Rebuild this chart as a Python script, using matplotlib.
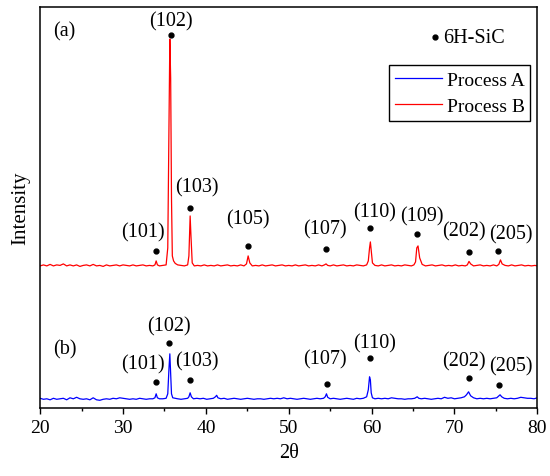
import numpy as np
import matplotlib
matplotlib.use("Agg")
import matplotlib.pyplot as plt
from matplotlib.ticker import MultipleLocator

plt.rcParams['font.family'] = ['Liberation Serif', 'DejaVu Serif']
plt.rcParams['mathtext.fontset'] = 'stix'

# Process A pattern (2theta, intensity), bottom trace
a_x = [20.0, 20.4, 20.8, 21.2, 21.6, 22.0, 22.4, 22.8, 23.2, 23.6, 24.0, 24.4,
       24.8, 25.2, 25.6, 26.0, 26.4, 26.8, 27.2, 27.6, 28.0, 28.4, 28.8, 29.2,
       29.6, 30.0, 30.4, 30.8, 31.2, 31.6, 32.0, 32.4, 32.8, 33.2, 33.6, 33.85,
       34.0, 34.15, 34.4, 34.8, 35.2, 35.4, 35.55, 35.65, 35.75, 35.85, 36.0,
       36.3, 36.6, 37.0, 37.4, 37.8, 37.95, 38.1, 38.25, 38.5, 38.9, 39.3, 39.7,
       40.1, 40.5, 40.9, 41.15, 41.3, 41.45, 41.8, 42.2, 42.6, 43.0, 43.4, 43.8,
       44.2, 44.6, 45.0, 45.4, 45.8, 46.2, 46.6, 47.0, 47.4, 47.8, 48.2, 48.6,
       49.0, 49.4, 49.8, 50.2, 50.6, 51.0, 51.4, 51.8, 52.2, 52.6, 53.0, 53.4,
       53.8, 54.2, 54.4, 54.55, 54.7, 55.0, 55.4, 55.8, 56.2, 56.6, 57.0, 57.4,
       57.8, 58.2, 58.6, 59.0, 59.4, 59.6, 59.75, 59.85, 59.95, 60.1, 60.4,
       60.8, 61.2, 61.6, 62.0, 62.4, 62.8, 63.2, 63.6, 64.0, 64.4, 64.8, 65.2,
       65.5, 65.7, 66.0, 66.4, 66.8, 67.2, 67.6, 68.0, 68.4, 68.8, 69.2, 69.6,
       70.0, 70.4, 70.8, 71.2, 71.45, 71.7, 71.95, 72.3, 72.7, 73.1, 73.5, 73.9,
       74.3, 74.7, 75.1, 75.3, 75.5, 75.7, 76.0, 76.4, 76.8, 77.2, 77.6, 78.0,
       78.4, 78.8, 79.2, 79.6, 80.0]
a_y = [9.5, 8.5, 9.0, 8.0, 9.5, 8.5, 9.0, 9.5, 8.0, 10.0, 9.0, 10.5,
       9.0, 8.5, 9.0, 8.0, 10.0, 8.0, 7.5, 8.5, 9.0, 8.5, 9.5, 9.0,
       10.0, 9.5, 9.0, 8.5, 9.0, 8.5, 9.5, 9.0, 8.5, 9.0, 9.0, 10.0,
       14.0, 10.0, 9.0, 9.0, 9.5, 14.0, 40.0, 54.0, 35.0, 14.0, 10.0,
       9.5, 9.0, 8.5, 9.0, 9.5, 11.0, 15.0, 11.0, 9.0, 9.5, 9.0, 9.5,
       8.5, 9.0, 9.5, 11.0, 12.5, 10.0, 9.0, 9.5, 8.5, 9.0, 9.5, 9.0,
       8.5, 9.0, 9.5, 9.0, 8.5, 9.0, 9.0, 8.5, 9.0, 9.5, 9.0, 9.5,
       9.0, 10.0, 9.0, 9.5, 9.0, 8.5, 9.0, 9.5, 9.0, 8.5, 9.0, 9.5,
       9.0, 9.5, 11.0, 14.0, 10.5, 9.0, 9.5, 9.0, 8.5, 9.0, 9.5, 9.0,
       8.5, 9.5, 9.0, 9.5, 11.0, 18.0, 31.0, 28.0, 15.0, 10.0, 9.0,
       9.5, 9.0, 9.5, 9.0, 10.0, 9.5, 9.0, 9.0, 8.5, 9.0, 9.0, 9.5,
       11.0, 9.5, 9.0, 9.5, 9.0, 8.5, 9.0, 9.5, 9.0, 10.5, 9.5, 10.0,
       9.0, 9.5, 10.0, 11.0, 13.0, 16.0, 12.0, 10.0, 9.0, 9.5, 9.0, 9.5,
       9.0, 9.5, 10.0, 11.5, 13.0, 11.0, 9.5, 9.0, 9.5, 9.0, 9.5, 10.5,
       10.0, 9.5, 9.5, 9.0, 10.0]

# Process B pattern (2theta, intensity), upper trace
b_x = [20.0, 20.4, 20.8, 21.2, 21.6, 22.0, 22.4, 22.8, 23.2, 23.6, 24.0, 24.4,
       24.8, 25.2, 25.6, 26.0, 26.4, 26.8, 27.2, 27.6, 28.0, 28.4, 28.8, 29.2,
       29.6, 30.0, 30.4, 30.8, 31.2, 31.6, 32.0, 32.4, 32.8, 33.2, 33.6, 33.85,
       34.0, 34.15, 34.4, 34.8, 35.2, 35.4, 35.55, 35.65, 35.75, 35.85, 35.95,
       36.1, 36.3, 36.6, 37.0, 37.4, 37.8, 37.95, 38.1, 38.2, 38.35, 38.6, 39.0,
       39.4, 39.8, 40.2, 40.6, 41.0, 41.4, 41.8, 42.2, 42.6, 43.0, 43.4, 43.8,
       44.2, 44.6, 44.9, 45.1, 45.3, 45.6, 46.0, 46.4, 46.8, 47.2, 47.6, 48.0,
       48.4, 48.8, 49.2, 49.6, 50.0, 50.4, 50.8, 51.2, 51.6, 52.0, 52.4, 52.8,
       53.2, 53.6, 54.0, 54.3, 54.5, 54.7, 55.0, 55.4, 55.8, 56.2, 56.6, 57.0,
       57.4, 57.8, 58.2, 58.6, 59.0, 59.4, 59.6, 59.75, 59.85, 59.95, 60.1,
       60.4, 60.8, 61.2, 61.6, 62.0, 62.4, 62.8, 63.2, 63.6, 64.0, 64.4, 64.8,
       65.1, 65.3, 65.45, 65.6, 65.8, 66.1, 66.5, 66.9, 67.3, 67.7, 68.1, 68.5,
       68.9, 69.3, 69.7, 70.1, 70.5, 70.9, 71.3, 71.55, 71.75, 71.95, 72.3,
       72.7, 73.1, 73.5, 73.9, 74.3, 74.7, 75.1, 75.35, 75.55, 75.75, 76.1,
       76.5, 76.9, 77.3, 77.7, 78.1, 78.5, 78.9, 79.3, 79.7, 80.0]
b_y = [142.0, 143.0, 142.0, 143.5, 142.0, 143.0, 142.5, 144.0, 142.0, 143.0,
       142.0, 143.0, 141.5, 142.5, 143.0, 142.0, 143.5, 142.0, 142.5, 141.5,
       143.0, 142.0, 142.5, 143.0, 142.0, 143.0, 142.5, 142.0, 143.0, 142.0,
       142.5, 143.0, 142.0, 142.5, 142.0, 143.0, 147.0, 143.0, 142.0, 142.5,
       143.0, 160.0, 290.0, 369.0, 330.0, 210.0, 152.0, 147.0, 144.5, 143.0,
       142.5, 142.0, 143.0, 152.0, 192.0, 172.0, 145.0, 142.0, 142.5, 142.0,
       143.0, 142.0, 142.5, 142.0, 143.0, 142.0, 142.5, 143.0, 142.0, 142.5,
       142.0, 143.0, 142.0, 144.0, 152.0, 145.0, 142.0, 142.5, 142.0, 143.0,
       142.0, 142.5, 143.0, 142.0, 142.5, 143.0, 142.0, 142.5, 142.0, 143.0,
       142.0, 142.5, 143.0, 142.0, 142.5, 142.0, 143.0, 142.0, 143.0, 144.0,
       142.5, 142.0, 143.0, 142.0, 142.5, 143.0, 142.0, 142.5, 142.0, 143.0,
       142.5, 142.0, 143.0, 147.0, 160.0, 166.0, 158.0, 145.0, 142.5, 142.0,
       143.0, 142.0, 142.5, 143.0, 142.0, 142.5, 142.0, 143.0, 142.5, 142.0,
       143.0, 146.0, 160.0, 162.0, 150.0, 143.5, 142.0, 142.5, 143.0, 142.0,
       142.5, 143.0, 142.0, 142.5, 142.0, 143.0, 142.0, 142.5, 142.0, 143.0,
       146.5, 144.0, 142.0, 142.5, 143.0, 142.0, 142.5, 142.0, 143.0, 142.0,
       143.5, 148.0, 144.0, 142.5, 142.0, 143.0, 142.0, 142.5, 143.0, 142.0,
       142.5, 142.0, 142.5, 142.0]

# peak marks (dot position) and hkl labels (text position)
b_dot_x = [34.0, 35.75, 38.1, 45.1, 54.5, 59.85, 65.5, 71.7, 75.3]
b_dot_y = [157, 373, 200, 162, 159, 180, 174, 156, 157]
b_lab = ['(101)', '(102)', '(103)', '(105)', '(107)', '(110)', '(109)', '(202)', '(205)']
b_lab_x = [32.4, 35.8, 38.9, 45.1, 54.4, 60.3, 66.1, 71.1, 76.8]
b_lab_y = [176, 387, 221, 189, 179, 196, 192, 177, 174]

a_dot_x = [34.0, 35.6, 38.1, 54.6, 59.85, 71.8, 75.4]
a_dot_y = [26, 65, 28, 24, 50, 30, 23]
a_lab = ['(101)', '(102)', '(103)', '(107)', '(110)', '(202)', '(205)']
a_lab_x = [32.4, 35.6, 38.9, 54.4, 60.3, 71.1, 76.8]
a_lab_y = [44, 82, 47, 49, 65, 47, 42]

fig = plt.figure(figsize=(5.5, 4.77), dpi=100)
ax = fig.add_axes([0.073, 0.143, 0.904, 0.840])

ax.plot(a_x, a_y, color='#0000ff', lw=0.9, label='Process A')
ax.plot(b_x, b_y, color='#ff0000', lw=0.9, label='Process B')

ax.plot(b_dot_x, b_dot_y, 'o', color='black', ms=3.5)
ax.plot(a_dot_x, a_dot_y, 'o', color='black', ms=3.5)
for s, x, y in zip(b_lab, b_lab_x, b_lab_y):
    ax.text(x, y, s, fontsize=14.5, ha='center', va='center')
for s, x, y in zip(a_lab, a_lab_x, a_lab_y):
    ax.text(x, y, s, fontsize=14.5, ha='center', va='center')

ax.text(21.6, 377, '(a)', fontsize=14.5, ha='left', va='center')
ax.text(21.6, 59, '(b)', fontsize=14.5, ha='left', va='center')

ax.plot([67.7], [371], 'o', color='black', ms=3.5)
ax.text(68.6, 371, '6H-SiC', fontsize=14.5, ha='left', va='center')

leg = ax.legend(loc='upper left', bbox_to_anchor=(0.702, 0.855), borderaxespad=0,
                fontsize=14, handlelength=2.4, handletextpad=0.25,
                borderpad=0.3, labelspacing=0.45, fancybox=False,
                framealpha=1, edgecolor='black')
leg.get_frame().set_linewidth(1.0)

ax.set_xlim(20, 80)
ax.set_ylim(0, 401)
ax.set_yticks([])
ax.xaxis.set_major_locator(MultipleLocator(10))
ax.xaxis.set_minor_locator(MultipleLocator(5))
ax.tick_params(axis='x', which='major', direction='out', length=4, width=1,
               labelsize=14, pad=4)
ax.tick_params(axis='x', which='minor', direction='out', length=2.5, width=1)
for sp in ax.spines.values():
    sp.set_linewidth(1.1)

ax.set_xlabel('2θ', fontsize=14.5, labelpad=5)
ax.set_ylabel('Intensity', fontsize=15, labelpad=7)

fig.savefig('out.png', dpi=100)
